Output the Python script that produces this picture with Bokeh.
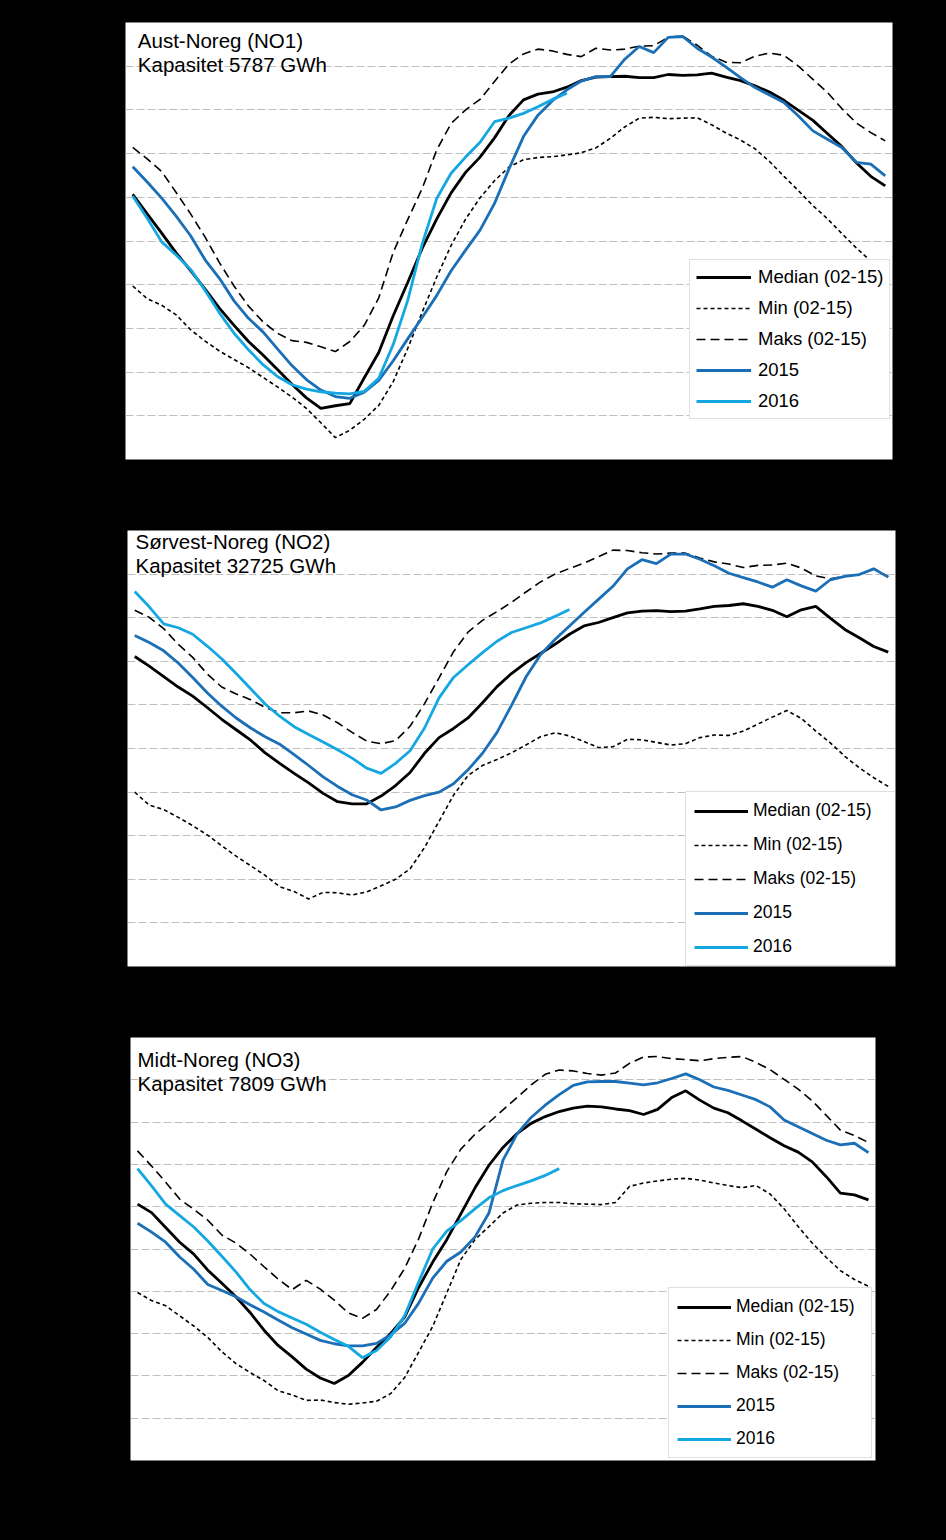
from bokeh.plotting import figure
from bokeh.models import Range1d, Grid, FixedTicker, Legend, LegendItem, Label
from bokeh.layouts import column
from bokeh.embed import file_html
from bokeh.resources import INLINE

# ---------------- data (reservoir filling, % of capacity, per week 1-53) ----------------
weeks = list(range(1, 54))
weeks_2016 = weeks[:31]

series_names = ["Median (02-15)", "Min (02-15)", "Maks (02-15)", "2015", "2016"]

# NO1 Aust-Noreg
no1_median = [60.7, 56.2, 51.8, 47.3, 43.2, 39.0, 34.6, 30.7, 27.0, 23.9, 20.6, 17.2, 14.1, 11.7, 12.3, 12.8,
              18.7, 24.5, 32.9, 40.5, 48.3, 55.0, 61.0, 65.7, 69.2, 73.6, 78.7, 82.3, 83.6, 84.1,
              85.2, 86.7, 87.5, 87.6, 87.7, 87.4, 87.4, 88.1, 87.9, 88.0, 88.4, 87.5, 86.7, 85.5, 84.1,
              82.2, 79.9, 77.6, 74.6, 71.6, 67.9, 64.8, 62.6]
no1_min = [39.7, 36.8, 35.3, 33.1, 29.7, 27.1, 24.8, 22.9, 21.0, 18.8, 16.6, 14.3, 11.7, 8.4, 5.0, 6.7,
           9.2, 12.4, 17.8, 25.4, 33.7, 41.7, 49.0, 55.0, 59.9, 63.8, 66.9, 68.6, 69.1, 69.3,
           69.7, 70.2, 71.3, 73.5, 76.1, 78.1, 78.3, 78.0, 78.1, 78.2, 76.6, 74.7, 73.1, 71.1, 68.2,
           64.8, 61.5, 58.1, 55.1, 51.7, 48.4, 45.4, 42.8]
no1_maks = [71.4, 68.8, 65.9, 61.1, 56.2, 50.9, 45.0, 39.7, 35.1, 31.5, 28.9, 27.2, 26.8, 25.8, 24.7, 27.0,
            30.7, 37.0, 47.4, 54.9, 62.0, 70.8, 76.9, 80.0, 82.4, 86.5, 90.5, 92.8, 93.9, 93.5,
            92.7, 92.2, 94.1, 93.7, 93.9, 94.6, 94.7, 96.6, 96.9, 94.8, 92.3, 90.9, 90.8, 92.3, 93.0,
            92.5, 90.0, 87.0, 84.0, 80.3, 77.0, 74.8, 72.9]
no1_2015 = [67.0, 63.5, 59.8, 55.7, 51.2, 45.7, 41.4, 36.3, 32.3, 29.2, 25.3, 21.5, 18.3, 15.9, 14.4, 14.0,
            15.4, 18.1, 22.6, 27.6, 32.5, 37.5, 43.2, 47.9, 52.5, 58.6, 66.5, 73.9, 78.8, 82.1,
            84.6, 86.6, 87.6, 87.6, 91.6, 94.5, 93.1, 96.6, 96.8, 94.1, 92.1, 89.8, 87.4, 85.1, 83.4,
            81.7, 78.6, 75.2, 73.3, 71.4, 68.0, 67.6, 64.9]
no1_2016 = [60.3, 55.2, 49.8, 46.8, 43.5, 38.7, 33.5, 28.9, 25.1, 21.7, 19.0, 17.1, 16.1, 15.5, 15.2, 15.0,
            15.6, 18.6, 26.3, 36.4, 49.3, 59.7, 65.5, 69.2, 72.6, 77.3, 78.1, 79.2, 80.7, 82.4, 83.8]

# NO2 Sørvest-Noreg
no2_median = [71.1, 68.9, 66.5, 64.1, 62.0, 59.4, 56.7, 54.3, 51.9, 49.0, 46.6, 44.3, 42.1, 39.7, 37.8, 37.3,
              37.3, 39.1, 41.5, 44.5, 48.9, 52.5, 54.6, 57.0, 60.5, 64.2, 67.2, 69.7, 71.8, 73.9,
              76.2, 78.1, 78.9, 80.0, 81.1, 81.5, 81.6, 81.4, 81.5, 82.0, 82.6, 82.8, 83.2, 82.6, 81.7,
              80.2, 81.8, 82.6, 79.9, 77.3, 75.4, 73.4, 72.1]
no2_min = [40.0, 37.0, 36.0, 34.2, 32.3, 30.2, 27.7, 25.3, 23.1, 20.9, 18.3, 17.2, 15.5, 17.0, 16.9, 16.4,
           17.1, 18.5, 20.0, 22.4, 27.3, 33.3, 39.3, 43.8, 46.1, 47.5, 49.0, 50.8, 52.7, 53.6,
           52.9, 51.6, 50.2, 50.4, 52.1, 52.0, 51.4, 50.8, 51.1, 52.5, 53.1, 53.0, 54.0, 55.6, 57.2,
           58.7, 56.9, 54.0, 51.3, 48.2, 45.6, 43.3, 41.3]
no2_maks = [81.7, 80.1, 77.5, 73.9, 70.9, 67.1, 64.1, 62.5, 61.2, 59.4, 58.2, 58.2, 58.6, 57.7, 55.9, 53.7,
            51.7, 51.1, 51.8, 55.1, 60.3, 66.2, 72.2, 76.7, 79.4, 81.4, 83.5, 85.9, 88.2, 90.0,
            91.3, 92.5, 94.0, 95.5, 95.4, 94.9, 94.6, 94.8, 94.8, 93.7, 92.8, 92.3, 91.5, 92.0, 92.1,
            92.5, 91.4, 89.6, 88.9, 89.5, 89.9, 91.3, 89.4]
no2_2015 = [75.9, 74.3, 72.4, 69.6, 66.3, 62.8, 59.7, 57.0, 54.7, 52.7, 51.0, 48.6, 46.1, 43.5, 41.3, 39.4,
            38.2, 35.9, 36.6, 38.1, 39.2, 40.0, 41.9, 45.1, 48.9, 53.7, 59.9, 66.4, 71.5, 75.0,
            78.1, 81.2, 84.2, 87.2, 91.2, 93.3, 92.4, 94.6, 94.6, 93.4, 91.9, 90.2, 89.2, 88.2, 87.0,
            88.7, 87.3, 86.1, 88.7, 89.5, 89.9, 91.2, 89.3]
no2_2016 = [86.0, 82.5, 78.6, 77.7, 76.2, 73.5, 70.6, 67.2, 63.7, 60.2, 57.4, 55.0, 53.2, 51.5, 49.7, 47.8,
            45.5, 44.3, 46.6, 49.5, 54.7, 61.6, 66.3, 69.2, 72.0, 74.6, 76.6, 77.7, 78.8, 80.3, 81.9]

# NO3 Midt-Noreg
no3_median = [60.6, 58.6, 55.1, 51.6, 48.8, 45.0, 41.9, 38.7, 35.0, 30.8, 27.2, 24.5, 21.6, 19.5, 18.2, 20.1,
              23.2, 26.7, 30.0, 33.9, 40.9, 46.9, 52.2, 58.3, 64.4, 69.8, 74.0, 77.3, 79.7, 81.3,
              82.5, 83.3, 83.8, 83.6, 83.1, 82.7, 81.8, 83.0, 85.8, 87.4, 85.2, 83.3, 82.2, 80.3, 78.3,
              76.3, 74.4, 72.9, 70.6, 67.1, 63.2, 62.8, 61.6]
no3_min = [39.7, 37.8, 36.6, 34.2, 31.8, 29.1, 25.7, 22.9, 20.8, 18.9, 16.5, 15.5, 14.2, 14.3, 13.7, 13.3,
           13.6, 14.0, 15.8, 19.6, 25.6, 31.7, 39.6, 47.5, 52.2, 55.3, 58.5, 60.4, 60.8, 61.0,
           61.0, 60.7, 60.6, 60.5, 61.0, 64.8, 65.6, 66.1, 66.5, 66.7, 66.3, 65.6, 65.0, 64.5, 65.0,
           63.0, 59.5, 55.3, 51.4, 48.0, 44.9, 42.8, 41.2]
no3_maks = [73.2, 69.6, 65.8, 61.8, 59.4, 56.8, 53.3, 51.4, 48.8, 45.8, 42.9, 40.4, 42.6, 40.5, 37.9, 34.9,
            33.6, 35.7, 40.1, 45.4, 52.4, 60.9, 68.3, 73.6, 77.1, 79.9, 82.9, 85.8, 88.8, 91.3,
            92.3, 92.1, 91.5, 91.1, 91.6, 93.9, 95.4, 95.5, 95.0, 94.8, 94.5, 95.0, 95.3, 95.5, 94.1,
            92.4, 90.1, 87.8, 85.0, 81.6, 78.1, 76.8, 75.2]
no3_2015 = [56.1, 54.0, 51.6, 48.1, 45.2, 41.6, 40.2, 38.7, 36.8, 35.1, 33.2, 31.4, 29.9, 28.4, 27.6, 27.1,
            27.1, 27.7, 29.7, 32.4, 37.2, 43.1, 47.1, 49.3, 52.8, 58.5, 71.0, 77.2, 81.1, 84.0,
            86.5, 88.7, 89.5, 89.6, 89.6, 89.2, 88.8, 89.3, 90.3, 91.4, 90.0, 88.3, 87.5, 86.4, 85.3,
            83.6, 80.5, 78.9, 77.3, 75.7, 74.6, 75.0, 72.8]
no3_2016 = [69.0, 64.9, 60.6, 57.9, 55.2, 51.9, 48.3, 44.6, 40.4, 37.1, 35.2, 33.7, 32.2, 30.3, 28.6, 27.0,
            24.3, 26.0, 29.2, 34.2, 42.2, 50.0, 54.2, 56.7, 59.5, 62.1, 63.8, 65.0, 66.1, 67.4, 69.0]

# ---------------- styling ----------------
FONT = "Liberation Sans"
C2015 = "#1a6fb6"
C2016 = "#14a7e2"
GRID_TICKS = [10, 20, 30, 40, 50, 60, 70, 80, 90, 100]


def make_panel(height, left, right, top, bottom, title1, title2, tx, ty1, ty2,
               median, vmin, vmax, v2015, v2016,
               leg_loc, leg_pad, leg_spacing, leg_glyph_w, leg_standoff, leg_label_w, leg_font):
    p = figure(width=946, height=height, output_backend="svg", toolbar_location=None,
               x_axis_type=None, y_axis_type=None,
               x_range=Range1d(0.5, 53.5), y_range=Range1d(0, 100),
               min_border_left=left, min_border_right=right,
               min_border_top=top, min_border_bottom=bottom)
    p.border_fill_color = "black"
    p.background_fill_color = "white"
    p.outline_line_color = None

    grid = Grid(dimension=1, ticker=FixedTicker(ticks=GRID_TICKS),
                grid_line_color="#bfbfbf", grid_line_dash="8 3", grid_line_width=1)
    p.add_layout(grid)

    r_max = p.line(weeks, vmax, line_color="black", line_width=1.6, line_dash="9 5")
    r_min = p.line(weeks, vmin, line_color="black", line_width=1.6, line_dash="4 3")
    r_med = p.line(weeks, median, line_color="black", line_width=2.8)
    r_15 = p.line(weeks, v2015, line_color=C2015, line_width=2.8)
    r_16 = p.line(weeks_2016, v2016, line_color=C2016, line_width=2.8)

    p.add_layout(Label(x=tx, y=ty1, text=title1, text_font=FONT, text_font_size="20.5px",
                       text_color="black", text_baseline="alphabetic"))
    p.add_layout(Label(x=tx, y=ty2, text=title2, text_font=FONT, text_font_size="20.5px",
                       text_color="black", text_baseline="alphabetic"))

    items = [LegendItem(label=series_names[0], renderers=[r_med]),
             LegendItem(label=series_names[1], renderers=[r_min]),
             LegendItem(label=series_names[2], renderers=[r_max]),
             LegendItem(label=series_names[3], renderers=[r_15]),
             LegendItem(label=series_names[4], renderers=[r_16])]
    legend = Legend(items=items, location=leg_loc, padding=leg_pad, spacing=leg_spacing,
                    margin=0, glyph_width=leg_glyph_w, glyph_height=20, label_height=20,
                    label_standoff=leg_standoff, label_width=leg_label_w,
                    label_text_font=FONT, label_text_font_size=leg_font, label_text_color="black",
                    border_line_color="#bfbfbf", border_line_width=1,
                    background_fill_color="white", background_fill_alpha=1.0)
    p.add_layout(legend)
    return p


p1 = make_panel(495, 125, 54, 22, 36, "Aust-Noreg (NO1)", "Kapasitet 5787 GWh", 1.35, 95.8, 90.3,
                no1_median, no1_min, no1_maks, no1_2015, no1_2016,
                (564, 40), 6, 9, 55, 7, 125, "18.5px")
p2 = make_panel(505, 127, 51, 35, 34, "Sørvest-Noreg (NO2)", "Kapasitet 32725 GWh", 1.05, 97.4, 91.9,
                no2_median, no2_min, no2_maks, no2_2015, no2_2016,
                (558, 0), 8, 13, 54, 5, 135, "17.5px")
p3 = make_panel(540, 130, 71, 37, 80, "Midt-Noreg (NO3)", "Kapasitet 7809 GWh", 1.0, 94.9, 89.2,
                no3_median, no3_min, no3_maks, no3_2015, no3_2016,
                (538, 2), 8, 12, 54, 5, 127, "17.5px")

# wrap each panel separately so the frames are not forced to share borders
layout = column(column(p1), column(p2), column(p3), spacing=0,
                styles={"background-color": "black"})

open("out.html", "w").write(file_html(layout, INLINE))
